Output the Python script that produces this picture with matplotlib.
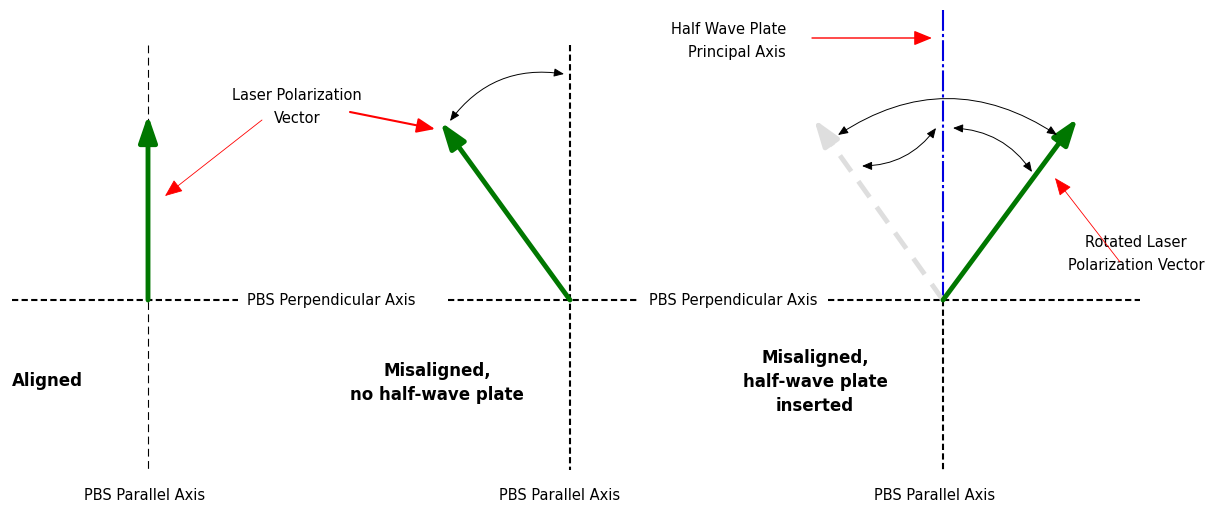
import numpy as np
import matplotlib
matplotlib.use("Agg")
import matplotlib.pyplot as plt

# ---- diagram data (pixel-like coordinates, y grows downward) ----
panel_x = [148, 570, 943]            # x position of each PBS parallel axis
axis_y = 300                         # y of PBS perpendicular axis
h_extent = [(12, 238), (448, 638), (828, 1140)]
v_extent = (45, 470)
vector_angle = [0.0, -36.0, 36.5]    # degrees from vertical (+ = clockwise)
vector_len = [185, 220, 226]
ghost_angle = -35.5
ghost_len = 222
perp_label_x = [247, 649]
parallel_label_x = [145, 560, 935]
case_labels = ["Aligned", "Misaligned,\nno half-wave plate", "Misaligned,\nhalf-wave plate\ninserted"]
case_label_pos = [(12, 381, "left"), (437, 383, "center"), (815, 382, "center")]

fig = plt.figure(figsize=(12.23, 5.12), dpi=100)
ax = fig.add_axes([0, 0, 1, 1])
ax.set_xlim(0, 1223)
ax.set_ylim(512, 0)
ax.axis("off")

FONT = "DejaVu Sans"
fs = 10.5

def tip(x0, ang, L):
    a = np.radians(ang)
    return x0 + L * np.sin(a), axis_y - L * np.cos(a)

# horizontal axes
for (a, b) in h_extent:
    ax.plot([a, b], [axis_y, axis_y], color="black", lw=1.5, dashes=(3, 1.6))

# vertical axes
ax.plot([panel_x[0]] * 2, v_extent, color="black", lw=0.8, dashes=(7, 4))
ax.plot([panel_x[1]] * 2, v_extent, color="black", lw=1.5, dashes=(3, 1.6))
ax.plot([panel_x[2]] * 2, (axis_y, v_extent[1]), color="black", lw=1.5, dashes=(3, 1.6))
# half wave plate axis
ax.plot([panel_x[2]] * 2, (10, axis_y), color="#0000e0", lw=1.5,
        dashes=(10, 1.5, 1.5, 1.5))

# ghost (original) vector in panel 3
gx, gy = tip(panel_x[2], ghost_angle, ghost_len)
sx, sy = tip(panel_x[2], ghost_angle, ghost_len - 20)
ax.plot([panel_x[2], sx], [axis_y, sy], color="#dedede", lw=3.5, dashes=(4, 2.5))
ax.annotate("", xy=(gx, gy), xytext=(sx, sy),
            arrowprops=dict(arrowstyle="-|>,head_length=1.6,head_width=0.55",
                            color="#dedede", lw=3.5, shrinkA=0, shrinkB=0,
                            mutation_scale=10))

# green polarization vectors
for x0, ang, L in zip(panel_x, vector_angle, vector_len):
    tx, ty = tip(x0, ang, L)
    ax.annotate("", xy=(tx, ty), xytext=(x0, axis_y),
                arrowprops=dict(arrowstyle="-|>,head_length=1.6,head_width=0.55",
                                color="#007700", lw=3.5, shrinkA=0, shrinkB=0,
                                mutation_scale=10))

# axis labels
for x in perp_label_x:
    ax.text(x, axis_y, "PBS Perpendicular Axis", fontsize=fs, family=FONT,
            ha="left", va="center")
for x in parallel_label_x:
    ax.text(x, 495, "PBS Parallel Axis", fontsize=fs, family=FONT,
            ha="center", va="center")

for lab, (x, y, ha) in zip(case_labels, case_label_pos):
    ax.text(x, y, lab, fontsize=12, family=FONT, weight="bold", ha=ha,
            va="center", multialignment="center", linespacing=1.45)

# annotations
ax.text(297, 107, "Laser Polarization\nVector", fontsize=fs, family=FONT,
        ha="center", va="center", linespacing=1.7)
ax.annotate("", xy=(165, 196), xytext=(262, 120),
            arrowprops=dict(arrowstyle="-|>,head_length=1.1,head_width=0.45",
                            color="red", lw=0.6, shrinkA=0, shrinkB=0,
                            mutation_scale=10))
ax.annotate("", xy=(435, 129), xytext=(350, 112),
            arrowprops=dict(arrowstyle="-|>,head_length=1.1,head_width=0.45",
                            color="red", lw=1.5, shrinkA=0, shrinkB=0,
                            mutation_scale=10))

ax.text(786, 41, "Half Wave Plate\nPrincipal Axis", fontsize=fs, family=FONT,
        ha="right", va="center", multialignment="right", linespacing=1.7)
ax.annotate("", xy=(932, 38), xytext=(812, 38),
            arrowprops=dict(arrowstyle="-|>,head_length=1.1,head_width=0.45",
                            color="red", lw=1.0, shrinkA=0, shrinkB=0,
                            mutation_scale=10))

ax.text(1136, 254, "Rotated Laser\nPolarization Vector", fontsize=fs, family=FONT,
        ha="center", va="center", linespacing=1.7)
ax.annotate("", xy=(1055, 178), xytext=(1120, 262),
            arrowprops=dict(arrowstyle="-|>,head_length=1.1,head_width=0.45",
                            color="red", lw=0.6, shrinkA=0, shrinkB=0,
                            mutation_scale=10))

# curved angle arrows
curve_style = dict(arrowstyle="<|-|>,head_length=0.6,head_width=0.25",
                   color="black", lw=0.7, shrinkA=0, shrinkB=0, mutation_scale=10)
ax.annotate("", xy=(450, 121), xytext=(564, 74),
            arrowprops=dict(connectionstyle="arc3,rad=0.3", **curve_style))
ax.annotate("", xy=(838, 135), xytext=(1057, 135),
            arrowprops=dict(connectionstyle="arc3,rad=0.33", **curve_style))
ax.annotate("", xy=(862, 166), xytext=(936, 128),
            arrowprops=dict(connectionstyle="arc3,rad=-0.25", **curve_style))
ax.annotate("", xy=(1032, 172), xytext=(953, 128),
            arrowprops=dict(connectionstyle="arc3,rad=-0.25", **curve_style))

fig.savefig("out.png", dpi=100)
